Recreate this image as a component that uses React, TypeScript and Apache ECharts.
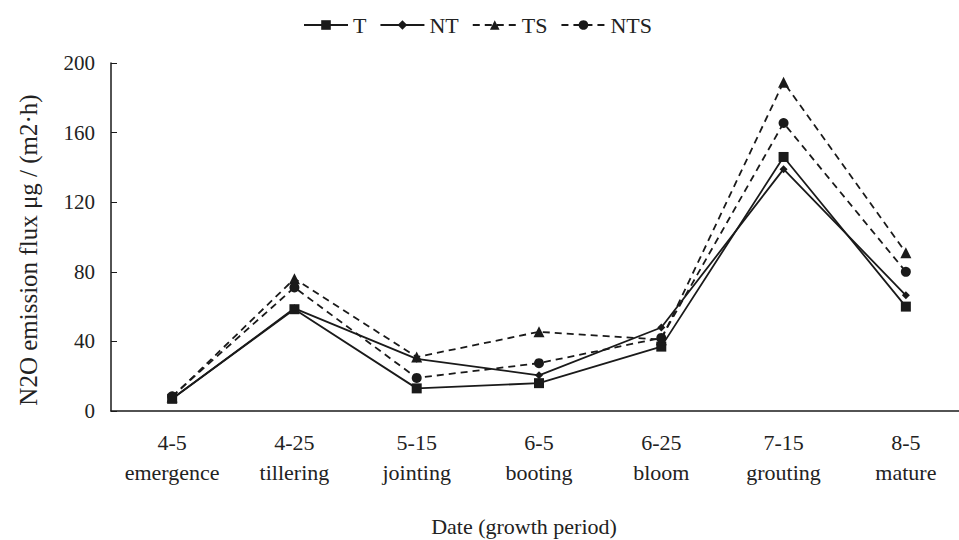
import React, { useEffect, useRef } from "react";
import * as echarts from "echarts";

const dates = ["4-5", "4-25", "5-15", "6-5", "6-25", "7-15", "8-5"];
const periods = ["emergence", "tillering", "jointing", "booting", "bloom", "grouting", "mature"];
const seriesT = [7, 58.5, 13, 16, 37, 146, 60];
const seriesNT = [7, 59, 30, 20.5, 48, 139, 66.5];
const seriesTS = [8, 76, 31, 45.5, 41, 189, 91];
const seriesNTS = [8.5, 71, 19, 27.5, 42, 165.5, 80];
const yTicks = [0, 40, 80, 120, 160, 200];
const yTitle = "N2O emission flux μg / (m2·h)";
const xTitle = "Date (growth period)";

const FONT = "Liberation Serif";
const INK = "#1a1a1a";

export default function App() {
  const ref = useRef<HTMLDivElement>(null);
  useEffect(() => {
    document.body.style.margin = "0";
    const chart = echarts.init(ref.current!, null, { renderer: "svg" });
    const common = (name: string, data: number[], symbol: string, size: number, dashed: boolean) => ({
      name,
      type: "line",
      data,
      symbol,
      symbolSize: size,
      showSymbol: true,
      lineStyle: { color: INK, width: 1.8, type: dashed ? [7, 5] : "solid" },
      itemStyle: { color: INK, borderColor: INK, borderWidth: 0 },
      emphasis: { disabled: true },
    });
    chart.setOption({
      animation: false,
      backgroundColor: "#fff",
      textStyle: { fontFamily: FONT },
      legend: {
        top: 9,
        left: 298,
        itemWidth: 44,
        itemHeight: 12,
        itemGap: 13,
        textStyle: { fontFamily: FONT, fontSize: 22, color: "#222" },
        data: ["T", "NT", "TS", "NTS"],
      },
      grid: {
        left: 111,
        width: 856,
        top: 63,
        bottom: 129,
        containLabel: false,
        outerBoundsMode: "none",
      },
      xAxis: {
        type: "category",
        data: dates.map((d, i) => d + "\n" + periods[i]),
        boundaryGap: true,
        axisLine: { lineStyle: { color: INK, width: 1.5 } },
        axisTick: { alignWithLabel: true, inside: true, length: 6, lineStyle: { color: INK } },
        axisLabel: {
          fontFamily: FONT,
          fontSize: 22,
          color: "#222",
          margin: 16,
          lineHeight: 30,
          interval: 0,
        },
        name: xTitle,
        nameLocation: "middle",
        nameGap: 104,
        nameTextStyle: { fontFamily: FONT, fontSize: 22, color: "#222", padding: [0, 30, 0, 0] },
      },
      yAxis: {
        type: "value",
        min: yTicks[0],
        max: yTicks[yTicks.length - 1],
        interval: 40,
        axisLine: { show: true, lineStyle: { color: INK, width: 1.5 } },
        axisTick: { show: true, inside: true, length: 6, lineStyle: { color: INK } },
        splitLine: { show: false },
        axisLabel: { fontFamily: FONT, fontSize: 21, color: "#222", margin: 16 },
      },
      graphic: [
        {
          type: "text",
          x: 28,
          y: 250,
          rotation: Math.PI / 2,
          style: {
            text: yTitle,
            fontFamily: FONT,
            fontSize: 25,
            fill: "#222",
            align: "center",
            verticalAlign: "middle",
          },
        },
      ],
      series: [
        common("T", seriesT, "rect", 10, false),
        common("NT", seriesNT, "diamond", 8, false),
        common("TS", seriesTS, "triangle", 11, true),
        common("NTS", seriesNTS, "circle", 10, true),
      ],
    });
    return () => chart.dispose();
  }, []);
  return <div ref={ref} style={{ width: 959, height: 540 }} />;
}
